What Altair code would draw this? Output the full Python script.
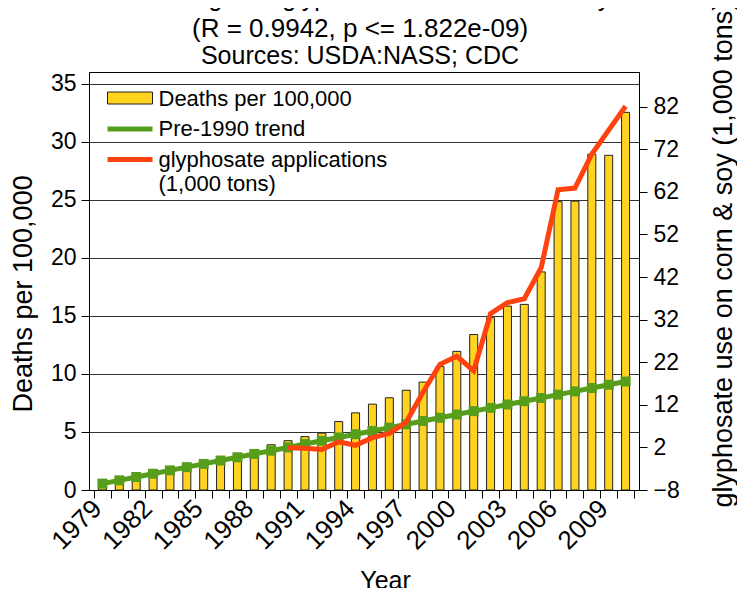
import altair as alt
import pandas as pd

FONT = "Liberation Sans"

# ---- data ----
years = list(range(1979, 2011))
deaths = [0.35, 0.6, 0.9, 1.2, 1.5, 1.75, 2.05, 2.35, 2.6, 2.9,
          3.9, 4.25, 4.6, 4.9, 5.9, 6.65, 7.4, 7.95, 8.6, 9.3,
          10.65, 11.95, 13.4, 14.85, 15.85, 16.0, 18.8, 24.85, 24.9, 28.95,
          28.85, 32.55]
trend = [0.55, 0.83, 1.12, 1.40, 1.69, 1.97, 2.25, 2.54, 2.82, 3.11,
         3.39, 3.67, 3.96, 4.24, 4.53, 4.81, 5.09, 5.38, 5.66, 5.95,
         6.23, 6.51, 6.80, 7.08, 7.37, 7.65, 7.93, 8.22, 8.50, 8.79,
         9.07, 9.35]
gly_years = list(range(1990, 2011))
glyphosate = [1.9, 1.8, 1.5, 3.3, 2.5, 4.3, 5.3, 7.9, 15.0, 21.5,
              23.4, 20.0, 33.4, 36.0, 36.9, 44.2, 62.5, 62.9, 70.9, 76.5,
              82.1]
left_ticks = [0, 5, 10, 15, 20, 25, 30, 35]
right_ticks = [-8, 2, 12, 22, 32, 42, 52, 62, 72, 82]
title_lines = ["Plotted against glyphosate use on corn & soy",
               "(R = 0.9942, p <= 1.822e-09)",
               "Sources: USDA:NASS; CDC"]
legend_labels = ["Deaths per 100,000", "Pre-1990 trend",
                 "glyphosate applications", "(1,000 tons)"]

YELLOW = "#ffd320"
GREEN = "#579d1c"
RED = "#ff420e"

df = pd.DataFrame({"year": years, "deaths": deaths, "trend": trend})
gdf = pd.DataFrame({"year": gly_years, "gly": glyphosate})
one = pd.DataFrame({"a": [0]})

tick_vals = [y - 0.5 for y in years] + [years[-1] + 0.5]
xscale = alt.Scale(domain=[1978.5, 2010.5], nice=False, zero=False)
xaxis = alt.Axis(
    values=tick_vals,
    labelExpr="((datum.value + 0.5 - 1979) % 3 == 0) ? format(datum.value + 0.5, 'd') : ''",
    labelAngle=315, labelAlign="right", labelBaseline="middle",
    labelOffset=3, labelPadding=6, labelOverlap=False, labelFlush=False,
    labelFontSize=26, tickSize=8, grid=False,
    title="Year", titleFontSize=25, titleFontWeight="normal",
    titleX=296, titleY=98, titleAlign="center", titleBaseline="alphabetic",
)
X = alt.X("year:Q", scale=xscale, axis=xaxis)

lscale = alt.Scale(domain=[0, 36.03], nice=False, zero=False)
laxis = alt.Axis(
    values=left_ticks, grid=True, gridColor="#333333", gridWidth=1,
    tickSize=8, labelFontSize=23, labelPadding=5,
    title="Deaths per 100,000", titleFontSize=27, titleFontWeight="normal",
    titleAngle=270, titleAlign="left", titleBaseline="alphabetic",
    titleX=-57.5, titleY=340,
)
rscale = alt.Scale(domain=[-8, 90.15], nice=False, zero=False)
raxis = alt.Axis(
    values=right_ticks, grid=False, orient="right",
    tickSize=8, labelFontSize=23, labelPadding=6,
    title="glyphosate use on corn & soy (1,000 tons)", titleFontSize=27,
    titleFontWeight="normal", titleAngle=270, titleAlign="left",
    titleBaseline="alphabetic", titleX=92.5, titleY=435,
)

bars = alt.Chart(df).mark_bar(size=8, color=YELLOW, stroke="#222222", strokeWidth=1).encode(
    x=X, y=alt.Y("deaths:Q", scale=lscale, axis=laxis)
)
trend_line = alt.Chart(df).mark_line(color=GREEN, strokeWidth=5).encode(
    x=X, y=alt.Y("trend:Q", scale=lscale, axis=laxis)
)
trend_pts = alt.Chart(df).mark_square(color=GREEN, size=100, opacity=1).encode(
    x=X, y=alt.Y("trend:Q", scale=lscale, axis=laxis)
)


def txt(s, x, y, size, align="left"):
    return alt.Chart(one).mark_text(
        text=s, fontSize=size, font=FONT, align=align,
        baseline="alphabetic", color="black"
    ).encode(x=alt.value(x), y=alt.value(y))


leg_rect = alt.Chart(one).mark_rect(fill=YELLOW, stroke="#222222", strokeWidth=1).encode(
    x=alt.value(18.5), x2=alt.value(63.5), y=alt.value(20), y2=alt.value(32)
)
leg_green = alt.Chart(one).mark_rule(color=GREEN, strokeWidth=5).encode(
    x=alt.value(18.5), x2=alt.value(63.5), y=alt.value(57)
)
leg_red = alt.Chart(one).mark_rule(color=RED, strokeWidth=5).encode(
    x=alt.value(18.5), x2=alt.value(63.5), y=alt.value(87.5)
)
leg_texts = [
    txt(legend_labels[0], 69.5, 34, 22),
    txt(legend_labels[1], 69.5, 64, 22),
    txt(legend_labels[2], 69.5, 95, 22),
    txt(legend_labels[3], 69.5, 118.5, 22),
]
title_texts = [
    txt(title_lines[0], 271, -66, 25, "center"),
    txt(title_lines[1], 271, -35, 26, "center"),
    txt(title_lines[2], 271, -8, 25, "center"),
]

left = alt.layer(bars, trend_line, trend_pts, leg_rect, leg_green, leg_red,
                 *leg_texts, *title_texts)

red = alt.Chart(gdf).mark_line(color=RED, strokeWidth=5).encode(
    x=X, y=alt.Y("gly:Q", scale=rscale, axis=raxis)
)

chart = alt.layer(left, red).resolve_scale(y="independent").properties(
    width=550, height=418,
    autosize=alt.AutoSizeParams(type="none"),
    padding={"left": 81, "top": 64, "right": 98, "bottom": 98},
).configure(font=FONT).configure_view(
    stroke="black", strokeWidth=1
).configure_axis(
    domainColor="black", tickColor="black", labelColor="black",
    titleColor="black", labelFont=FONT, titleFont=FONT,
)

chart.save("out.html", embed_options={"renderer": "svg", "actions": False})
